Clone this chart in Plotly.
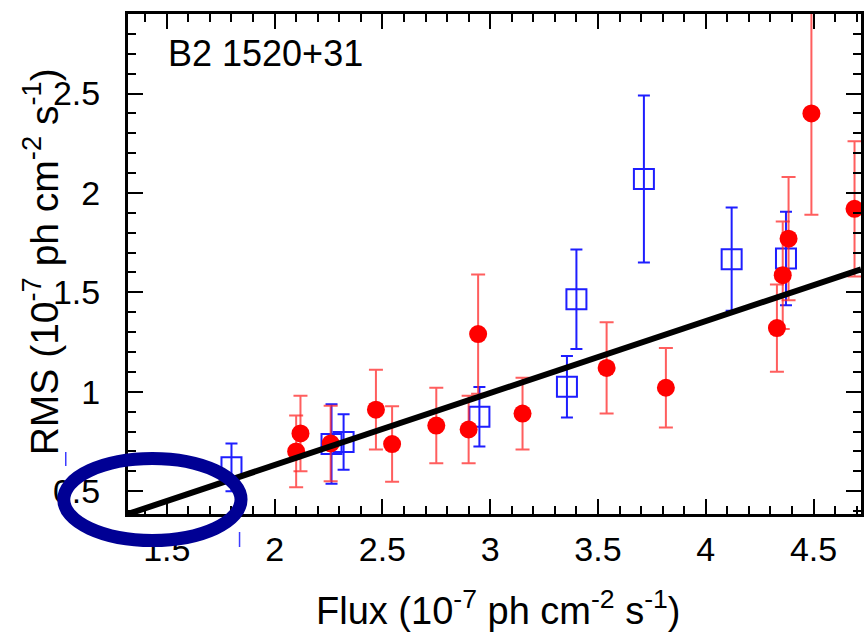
import plotly.graph_objects as go

# ---- data ----
red_x = [2.10, 2.12, 2.26, 2.47, 2.545, 2.75, 2.90, 2.944, 3.15, 3.54, 3.815, 4.33, 4.357, 4.384, 4.49, 4.69]
red_y = [0.70, 0.79, 0.74, 0.91, 0.737, 0.83, 0.81, 1.29, 0.89, 1.12, 1.02, 1.32, 1.586, 1.77, 2.40, 1.92]
red_err = [0.18, 0.19, 0.19, 0.20, 0.19, 0.19, 0.17, 0.30, 0.18, 0.23, 0.20, 0.22, 0.27, 0.31, 0.51, 0.34]

blue_x = [1.80, 2.264, 2.32, 2.95, 3.356, 3.40, 3.713, 4.12, 4.372]
blue_y = [0.62, 0.737, 0.747, 0.874, 1.025, 1.465, 2.07, 1.667, 1.67]
blue_err = [0.12, 0.20, 0.14, 0.15, 0.155, 0.25, 0.42, 0.26, 0.235]

fit_x = [1.32, 4.72]
fit_y = [0.385, 1.616]

x_tickvals = [1.5, 2, 2.5, 3, 3.5, 4, 4.5]
x_ticktext = ["1.5", "2", "2.5", "3", "3.5", "4", "4.5"]
y_tickvals = [0.5, 1, 1.5, 2, 2.5]
y_ticktext = ["0.5", "1", "1.5", "2", "2.5"]

source_label = "B2 1520+31"
x_title = "Flux (10<sup>-7</sup> ph cm<sup>-2</sup> s<sup>-1</sup>)"
y_title = "RMS (10<sup>-7</sup> ph cm<sup>-2</sup> s<sup>-1</sup>)"

FONT = "Liberation Sans, Arial, Helvetica, sans-serif"

fig = go.Figure()

fig.add_trace(go.Scatter(
    x=blue_x, y=blue_y, mode="markers",
    marker=dict(symbol="square-open", size=20, color="rgb(30,30,255)", line=dict(width=2, color="rgb(30,30,255)")),
    error_y=dict(type="data", array=blue_err, visible=True, color="rgb(30,30,255)", thickness=2, width=6),
    showlegend=False, cliponaxis=True,
))

fig.add_trace(go.Scatter(
    x=red_x, y=red_y, mode="markers",
    marker=dict(symbol="circle", size=18, color="rgb(255,0,0)", line=dict(width=0)),
    error_y=dict(type="data", array=red_err, visible=True, color="rgba(255,40,40,0.75)", thickness=2, width=7),
    showlegend=False, cliponaxis=True,
))

fig.add_trace(go.Scatter(
    x=fit_x, y=fit_y, mode="lines",
    line=dict(color="black", width=6),
    showlegend=False,
))

axis_common = dict(
    showgrid=False, zeroline=False,
    showline=True, linecolor="black", linewidth=3, mirror="allticks",
    ticks="inside", ticklen=15, tickwidth=1.5, tickcolor="black",
    tickfont=dict(family=FONT, size=34, color="black"),
    minor=dict(dtick=0.1, ticks="inside", ticklen=8, tickwidth=1.5, tickcolor="black", showgrid=False),
)

fig.update_xaxes(range=[1.32, 4.72], tickvals=x_tickvals, ticktext=x_ticktext,
                 ticklabelstandoff=3, **axis_common)
fig.update_yaxes(range=[0.385, 2.90], tickvals=y_tickvals, ticktext=y_ticktext,
                 ticklabelstandoff=18, **axis_common)

W, H = 866, 634
L, R, T, B = 128, 2, 14, 120
pw, ph = W - L - R, H - T - B

def px(xp):
    return (xp - L) / pw

def py(yp):
    return (H - B - yp) / ph

fig.update_layout(
    width=W, height=H,
    margin=dict(l=L, r=R, t=T, b=B, pad=0),
    paper_bgcolor="white", plot_bgcolor="white",
    font=dict(family=FONT, color="black"),
    annotations=[
        dict(text=source_label, xref="paper", yref="paper", x=px(166), y=py(54),
             xanchor="left", yanchor="middle", showarrow=False,
             font=dict(family=FONT, size=36, color="black")),
        dict(text=x_title, xref="paper", yref="paper", x=px(500), y=py(608),
             xanchor="center", yanchor="middle", showarrow=False,
             font=dict(family=FONT, size=38, color="black")),
        dict(text=y_title, xref="paper", yref="paper", x=px(40), y=py(262),
             xanchor="center", yanchor="middle", showarrow=False, textangle=-90,
             font=dict(family=FONT, size=39, color="black")),
    ],
    shapes=[
        dict(type="circle", xref="paper", yref="paper",
             x0=px(63.5), x1=px(241.5), y0=py(540.5), y1=py(458.5),
             line=dict(color="#000094", width=13), layer="above"),
        dict(type="line", xref="paper", yref="paper",
             x0=px(65.5), x1=px(65.5), y0=py(452), y1=py(466),
             line=dict(color="rgb(60,60,255)", width=1.5), layer="above"),
        dict(type="line", xref="paper", yref="paper",
             x0=px(240), x1=px(240), y0=py(532), y1=py(547),
             line=dict(color="rgb(60,60,255)", width=1.5), layer="above"),
    ],
)

fig.write_html("out.html")
